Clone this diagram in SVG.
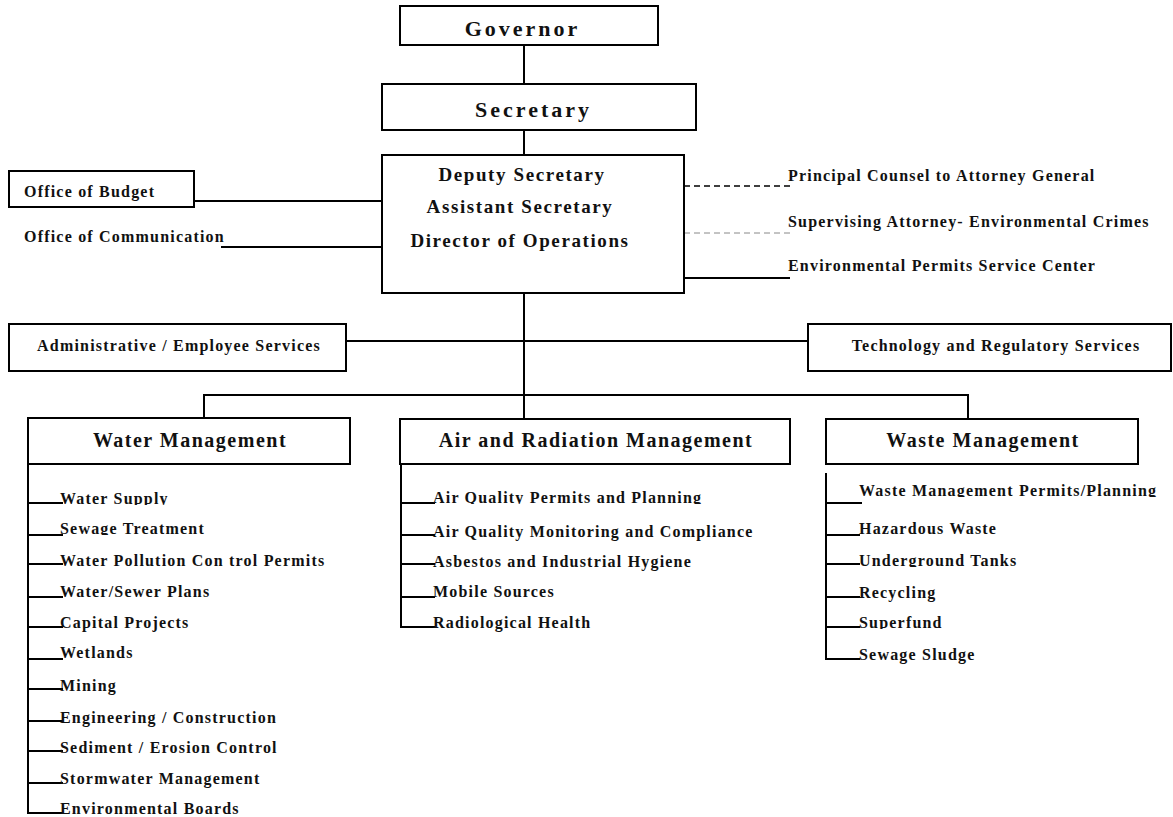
<svg xmlns="http://www.w3.org/2000/svg" width="1173" height="817" viewBox="0 0 1173 817">
<style>
.box{fill:#fff;stroke:#000;stroke-width:2}
.ln{stroke:#000;stroke-width:2;fill:none}
.dash{stroke:#000;stroke-width:1.6;stroke-dasharray:6 4;fill:none}
.dash2{stroke:#888;stroke-width:1;stroke-dasharray:6 4;fill:none}
text{font-family:"Liberation Serif","Times New Roman",serif;font-weight:bold;fill:#111}
.t16{font-size:16px;letter-spacing:1.2px}
.t19{font-size:19px;letter-spacing:1.6px;text-anchor:middle}
.t20{font-size:20px;letter-spacing:1.5px;text-anchor:middle}
.t22{font-size:22px;letter-spacing:3px;text-anchor:middle}
.mid{text-anchor:middle}
</style>
<defs>
  <clipPath id="c1"><rect x="0" y="480" width="400" height="25"/></clipPath>
  <clipPath id="c2"><rect x="0" y="515" width="400" height="20"/></clipPath>
  <clipPath id="c3"><rect x="0" y="795" width="400" height="20"/></clipPath>
  <clipPath id="c4"><rect x="420" y="480" width="380" height="24"/></clipPath>
  <clipPath id="c5"><rect x="850" y="474" width="323" height="23"/></clipPath>
  <clipPath id="c6"><rect x="850" y="545" width="323" height="22"/></clipPath>
  <clipPath id="c7"><rect x="850" y="608" width="323" height="21"/></clipPath>
</defs>
<rect width="1173" height="817" fill="#fff"/>
<g id="connectors">
  <line class="ln" x1="524" y1="45" x2="524" y2="84"/>
  <line class="ln" x1="524" y1="130" x2="524" y2="162"/>
  <line class="ln" x1="152" y1="201" x2="382" y2="201"/>
  <line class="ln" x1="221" y1="247" x2="382" y2="247"/>
  <line class="dash" x1="684" y1="186" x2="790" y2="186"/>
  <line class="dash2" x1="684" y1="233" x2="790" y2="233"/>
  <line class="ln" x1="684" y1="278" x2="790" y2="278"/>
  <line class="ln" x1="524" y1="293" x2="524" y2="427"/>
  <line class="ln" x1="346" y1="341" x2="808" y2="341"/>
  <polyline class="ln" points="204,427 204,395 968,395 968,427"/>
  <polyline class="ln" points="28,464 28,813 63,813"/>
  <path class="ln" d="M28 503H63M28 535H63M28 564H63M28 597H63M28 627H63M28 659H63M28 689H63M28 721H63M28 751H63M28 783H63"/>
  <polyline class="ln" points="401,464 401,627 435,627"/>
  <path class="ln" d="M401 503H435M401 535H435M401 564H435M401 597H435"/>
  <polyline class="ln" points="826,473 826,659 860,659"/>
  <path class="ln" d="M826 503H862M826 535H860M826 564H860M826 597H860M826 627H860"/>
</g>
<g id="governor">
  <rect class="box" x="400" y="6" width="258" height="39"/>
  <text class="t22" x="522.5" y="36">Governor</text>
</g>
<g id="secretary">
  <rect class="box" x="382" y="84" width="314" height="46"/>
  <text class="t22" x="533.5" y="117">Secretary</text>
</g>
<g id="deputy">
  <rect class="box" x="382" y="155" width="302" height="138"/>
  <text class="t19" x="522" y="181">Deputy Secretary</text>
  <text class="t19" x="520" y="213">Assistant Secretary</text>
  <text class="t19" x="520" y="247">Director of Operations</text>
</g>
<g id="budget">
  <rect class="box" x="9" y="171" width="185" height="36"/>
  <text class="t16" x="24" y="197">Office of Budget</text>
</g>
<g id="communication">
  <text class="t16" x="24" y="242">Office of Communication</text>
</g>
<g id="counsel">
  <text class="t16" x="788" y="181">Principal Counsel to Attorney General</text>
</g>
<g id="crimes">
  <text class="t16" x="788" y="227">Supervising Attorney- Environmental Crimes</text>
</g>
<g id="permits-center">
  <text class="t16" x="788" y="271">Environmental Permits Service Center</text>
</g>
<g id="admin">
  <rect class="box" x="9" y="324" width="337" height="47"/>
  <text class="t16 mid" x="179" y="351">Administrative / Employee Services</text>
</g>
<g id="tech">
  <rect class="box" x="808" y="324" width="363" height="47"/>
  <text class="t16 mid" x="996" y="351">Technology and Regulatory Services</text>
</g>
<g id="water">
  <rect class="box" x="28" y="418" width="322" height="46"/>
  <text class="t20" x="190" y="447">Water Management</text>
</g>
<g id="air">
  <rect class="box" x="400" y="419" width="390" height="45"/>
  <text class="t20" x="596" y="447">Air and Radiation Management</text>
</g>
<g id="waste">
  <rect class="box" x="826" y="419" width="312" height="45"/>
  <text class="t20" x="983" y="447">Waste Management</text>
</g>
<g id="water-items">
  <text class="t16" x="60" y="504" clip-path="url(#c1)">Water Supply</text>
  <text class="t16" x="60" y="534" clip-path="url(#c2)">Sewage Treatment</text>
  <text class="t16" x="60" y="566">Water Pollution Con trol Permits</text>
  <text class="t16" x="60" y="597">Water/Sewer Plans</text>
  <text class="t16" x="60" y="628">Capital Projects</text>
  <text class="t16" x="60" y="658">Wetlands</text>
  <text class="t16" x="60" y="691">Mining</text>
  <text class="t16" x="60" y="723">Engineering / Construction</text>
  <text class="t16" x="60" y="753">Sediment / Erosion Control</text>
  <text class="t16" x="60" y="784">Stormwater Management</text>
  <text class="t16" x="60" y="814" clip-path="url(#c3)">Environmental Boards</text>
</g>
<g id="air-items">
  <text class="t16" x="433" y="503" clip-path="url(#c4)">Air Quality Permits and Planning</text>
  <text class="t16" x="433" y="537">Air Quality Monitoring and Compliance</text>
  <text class="t16" x="433" y="567">Asbestos and Industrial Hygiene</text>
  <text class="t16" x="433" y="597">Mobile Sources</text>
  <text class="t16" x="433" y="628">Radiological Health</text>
</g>
<g id="waste-items">
  <text class="t16" x="859" y="496" clip-path="url(#c5)">Waste Management Permits/Planning</text>
  <text class="t16" x="859" y="534">Hazardous Waste</text>
  <text class="t16" x="859" y="566" clip-path="url(#c6)">Underground Tanks</text>
  <text class="t16" x="859" y="598">Recycling</text>
  <text class="t16" x="859" y="628" clip-path="url(#c7)">Superfund</text>
  <text class="t16" x="859" y="660">Sewage Sludge</text>
</g>
</svg>
